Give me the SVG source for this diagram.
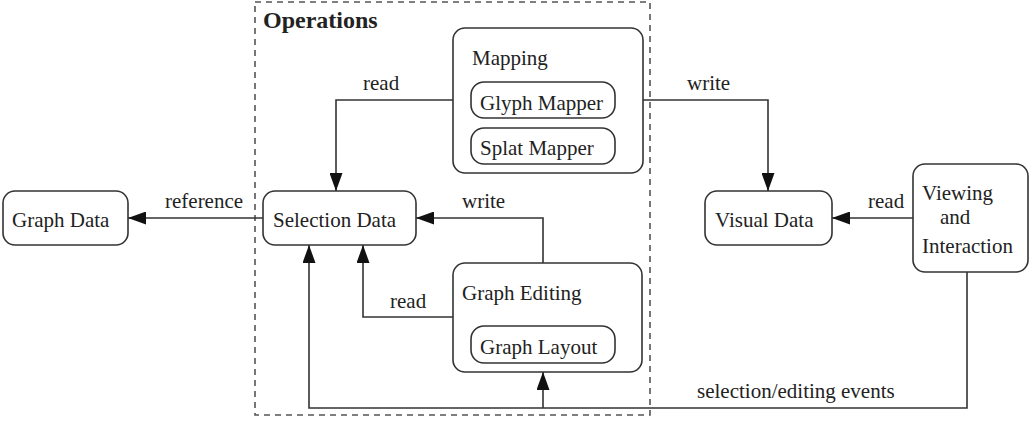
<svg xmlns="http://www.w3.org/2000/svg" width="1029" height="435" viewBox="0 0 1029 435">
<style>
.box{fill:#fff;stroke:#333;stroke-width:1.6}
.t{font-family:"Liberation Serif","Times New Roman",serif;font-size:21px;fill:#222}
.b{font-family:"Liberation Serif","Times New Roman",serif;font-size:24px;font-weight:bold;fill:#222}
.c{fill:none;stroke:#333;stroke-width:1.6}
</style>
<defs>
<marker id="arr" viewBox="0 0 18 13" refX="18" refY="6.5" markerWidth="18" markerHeight="13" orient="auto" markerUnits="userSpaceOnUse">
<path d="M0,0 L18,6.5 L0,13 Z" fill="#111"/>
</marker>
</defs>
<rect x="255" y="2" width="395" height="413" fill="none" stroke="#555" stroke-width="1.6" stroke-dasharray="6,5"/>
<text class="b" x="263" y="28">Operations</text>
<g id="connectors">
<path class="c" d="M453,100 H336 V191" marker-end="url(#arr)"/>
<path class="c" d="M643,100 H768 V191" marker-end="url(#arr)"/>
<path class="c" d="M263,218 H128" marker-end="url(#arr)"/>
<path class="c" d="M543,263 V218 H416" marker-end="url(#arr)"/>
<path class="c" d="M453,317 H363 V245" marker-end="url(#arr)"/>
<path class="c" d="M967,272 V408 H309 V245" marker-end="url(#arr)"/>
<path class="c" d="M543,408 V372" marker-end="url(#arr)"/>
<path class="c" d="M913,218 H832" marker-end="url(#arr)"/>
<text class="t" x="363" y="90">read</text>
<text class="t" x="687" y="90">write</text>
<text class="t" x="165" y="208">reference</text>
<text class="t" x="462" y="208">write</text>
<text class="t" x="390" y="308">read</text>
<text class="t" x="868" y="208">read</text>
<text class="t" x="697" y="398">selection/editing events</text>
</g>
<g id="mapping">
<rect class="box" x="453" y="28" width="190" height="145" rx="12"/>
<text class="t" x="472" y="65">Mapping</text>
</g>
<g id="glyph-mapper">
<rect class="box" x="471" y="82" width="144" height="36" rx="13"/>
<text class="t" x="480" y="110">Glyph Mapper</text>
</g>
<g id="splat-mapper">
<rect class="box" x="471" y="128" width="144" height="36" rx="13"/>
<text class="t" x="480" y="155">Splat Mapper</text>
</g>
<g id="selection-data">
<rect class="box" x="263" y="191" width="153" height="54" rx="12"/>
<text class="t" x="273" y="227">Selection Data</text>
</g>
<g id="graph-data">
<rect class="box" x="3" y="191" width="125" height="54" rx="12"/>
<text class="t" x="12" y="227">Graph Data</text>
</g>
<g id="graph-editing">
<rect class="box" x="453" y="263" width="189" height="109" rx="12"/>
<text class="t" x="462" y="300">Graph Editing</text>
</g>
<g id="graph-layout">
<rect class="box" x="471" y="326" width="144" height="37" rx="13"/>
<text class="t" x="480" y="354">Graph Layout</text>
</g>
<g id="visual-data">
<rect class="box" x="705" y="191" width="127" height="54" rx="12"/>
<text class="t" x="715" y="227">Visual Data</text>
</g>
<g id="viewing">
<rect class="box" x="913" y="164" width="115" height="108" rx="12"/>
<text class="t" x="922" y="200">Viewing</text>
<text class="t" x="940" y="224">and</text>
<text class="t" x="922" y="253">Interaction</text>
</g>
</svg>
